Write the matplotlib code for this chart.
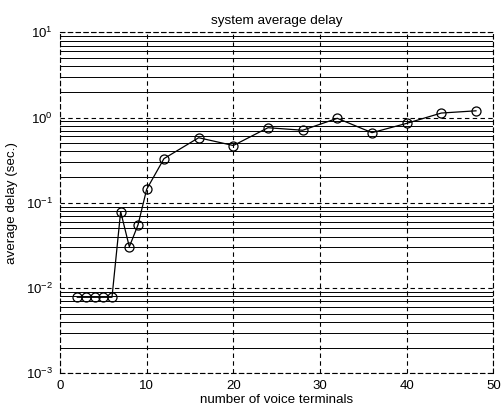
import matplotlib
matplotlib.use("Agg")
import matplotlib.pyplot as plt
from matplotlib.ticker import LogLocator, LogFormatterMathtext, MultipleLocator, NullFormatter

plt.rcParams['font.family'] = ['Liberation Sans', 'DejaVu Sans']
plt.rcParams['mathtext.fontset'] = 'custom'
plt.rcParams['mathtext.rm'] = 'Liberation Sans'
plt.rcParams['mathtext.it'] = 'Liberation Sans'
plt.rcParams['mathtext.default'] = 'regular'

terminals = [2, 3, 4, 5, 6, 7, 8, 9, 10, 12, 16, 20, 24, 28, 32, 36, 40, 44, 48]
delay = [0.0078, 0.0078, 0.0078, 0.0078, 0.0078, 0.079, 0.0305, 0.055, 0.144,
         0.33, 0.58, 0.47, 0.76, 0.71, 0.98, 0.665, 0.855, 1.13, 1.20]

title = "system average delay"
xlabel = "number of voice terminals"
ylabel = "average delay (sec.)"

fig = plt.figure(figsize=(5.02, 4.08), dpi=100)
ax = fig.add_axes([0.1195, 0.085, 0.8632, 0.8358])

ax.plot(terminals, delay, color='black', lw=0.9, marker='o', markersize=6.5,
        markerfacecolor='none', markeredgecolor='black', markeredgewidth=0.9, zorder=5)

ax.set_yscale('log')
ax.set_xlim(0, 50)
ax.set_ylim(1e-3, 1e1)
ax.xaxis.set_major_locator(MultipleLocator(10))
ax.yaxis.set_major_locator(LogLocator(base=10, numticks=10))
ax.yaxis.set_minor_locator(LogLocator(base=10, subs=range(2, 10), numticks=20))
ax.yaxis.set_minor_formatter(NullFormatter())
ax.yaxis.set_major_formatter(LogFormatterMathtext())

dash = (0, (4, 3))
ax.grid(True, which='major', axis='both', color='black', linestyle=dash, lw=0.8)
ax.grid(True, which='minor', axis='y', color='black', linestyle='-', lw=0.7)

for s in ax.spines.values():
    s.set_linestyle(dash)
    s.set_linewidth(0.8)
    s.set_color('black')

ax.tick_params(which='both', direction='in', labelsize=9.5, length=0)
ax.tick_params(axis='x', pad=5)
ax.tick_params(axis='y', pad=5)
ax.set_title(title, fontsize=9.7, pad=6)
ax.set_xlabel(xlabel, fontsize=9.6, labelpad=1)
ax.set_ylabel(ylabel, fontsize=9.6, labelpad=6)

fig.savefig("out.png", dpi=100)
